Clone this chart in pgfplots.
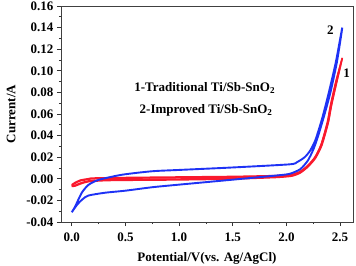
\documentclass[border=0pt]{standalone}
\usepackage{pgfplots}
\pgfplotsset{compat=1.18}
\usepackage{fontspec}
\setmainfont{Liberation Serif}
\definecolor{cvblue}{RGB}{30,50,245}
\definecolor{cvred}{RGB}{250,25,45}
\newcommand{\lf}{\bfseries\fontsize{13}{14}\selectfont}
\begin{document}
\begin{tikzpicture}
\begin{axis}[
  scale only axis, width=292pt, height=216pt,
  xmin=-0.1, xmax=2.62, ymin=-0.04, ymax=0.16,
  axis line style={draw=black!75, line width=0.8pt},
  xtick={0,0.5,...,2.5}, ytick={-0.04,-0.02,...,0.16},
  minor x tick num=1, minor y tick num=1,
  tick align=outside, xtick pos=bottom, ytick pos=left,
  major tick length=4pt, minor tick length=2.2pt,
  tick style={black!80, line width=0.7pt},
  /pgf/number format/assume math mode=true,
  xticklabel style={font=\lf, yshift=-3pt, /pgf/number format/.cd, fixed, fixed zerofill, precision=1},
  yticklabel style={font=\lf, /pgf/number format/.cd, fixed, fixed zerofill, precision=2},
  scaled y ticks=false,
  xlabel={\lf Potential/V(vs. Ag/AgCl)},
  ylabel={\lf Current/A},
  xlabel style={yshift=-4pt},
  ylabel style={yshift=4pt},
  clip=false,
]
% red (1) two cycles
\addplot[cvred, line width=1.5pt, smooth, tension=0.4] coordinates {
(0,-0.0070)(0.03,-0.0068)(0.08,-0.0048)(0.155,-0.0027)(0.31,-0.0017)(0.5,-0.0014)(1.0,-0.0010)(1.5,-0.0002)(1.9,0.0012)(2.05,0.0025)(2.13,0.0055)(2.2,0.011)(2.27,0.019)(2.33,0.031)(2.39,0.052)(2.42,0.068)(2.47,0.090)(2.52,0.1115)
(2.46,0.090)(2.41,0.068)(2.38,0.052)(2.32,0.031)(2.26,0.019)(2.19,0.011)(2.12,0.0062)(2.05,0.0035)(1.9,0.0025)(1.5,0.0016)(1.0,0.0010)(0.5,0.0006)(0.2,0.0)(0.155,-0.0006)(0.08,-0.0019)(0.03,-0.0042)(0,-0.0062)};
\addplot[cvred, line width=1.5pt, smooth, tension=0.4] coordinates {
(0,-0.0062)(0.03,-0.0060)(0.08,-0.0040)(0.155,-0.0020)(0.31,-0.0010)(0.5,-0.0006)(1.0,-0.0002)(1.5,0.0004)(1.9,0.0018)(2.05,0.0030)(2.13,0.0060)(2.2,0.012)(2.27,0.020)(2.33,0.032)(2.39,0.053)(2.42,0.069)(2.47,0.091)(2.52,0.112)
(2.465,0.091)(2.415,0.069)(2.385,0.053)(2.325,0.032)(2.265,0.020)(2.195,0.012)(2.125,0.0066)(2.05,0.0040)(1.9,0.0030)(1.5,0.0022)(1.0,0.0017)(0.5,0.0012)(0.2,0.0007)(0.155,0.0001)(0.08,-0.0012)(0.03,-0.0035)(0,-0.0055)};
% blue (2)
\addplot[cvblue, line width=1.9pt, smooth, tension=0.4] coordinates {
(0,-0.031)(0.05,-0.024)(0.1,-0.019)(0.155,-0.0155)(0.31,-0.0129)(0.5,-0.0110)(0.75,-0.0078)(1.0,-0.0054)(1.5,-0.0008)(1.9,0.0030)(2.03,0.0046)(2.13,0.009)(2.2,0.017)(2.25,0.027)(2.29,0.038)(2.35,0.058)(2.41,0.080)(2.47,0.108)(2.52,0.140)
(2.46,0.108)(2.39,0.078)(2.33,0.055)(2.27,0.036)(2.22,0.026)(2.17,0.020)(2.1,0.0155)(2.03,0.0134)(1.5,0.0105)(1.0,0.0082)(0.75,0.0070)(0.47,0.0038)(0.25,-0.001)(0.155,-0.0057)(0.093,-0.013)(0.03,-0.026)(0,-0.031)};
\node[font=\lf, anchor=west] at (axis cs:0.55,0.084) {1-Traditional Ti/Sb-SnO\textsubscript{2}};
\node[font=\lf, anchor=west] at (axis cs:0.60,0.063) {2-Improved Ti/Sb-SnO\textsubscript{2}};
\node[font=\lf] at (axis cs:2.41,0.1375) {2};
\node[font=\lf] at (axis cs:2.56,0.098) {1};
\end{axis}
\pgfresetboundingbox
\path[use as bounding box] (-61pt,-43pt) rectangle (295pt,222pt);
\end{tikzpicture}
\end{document}
